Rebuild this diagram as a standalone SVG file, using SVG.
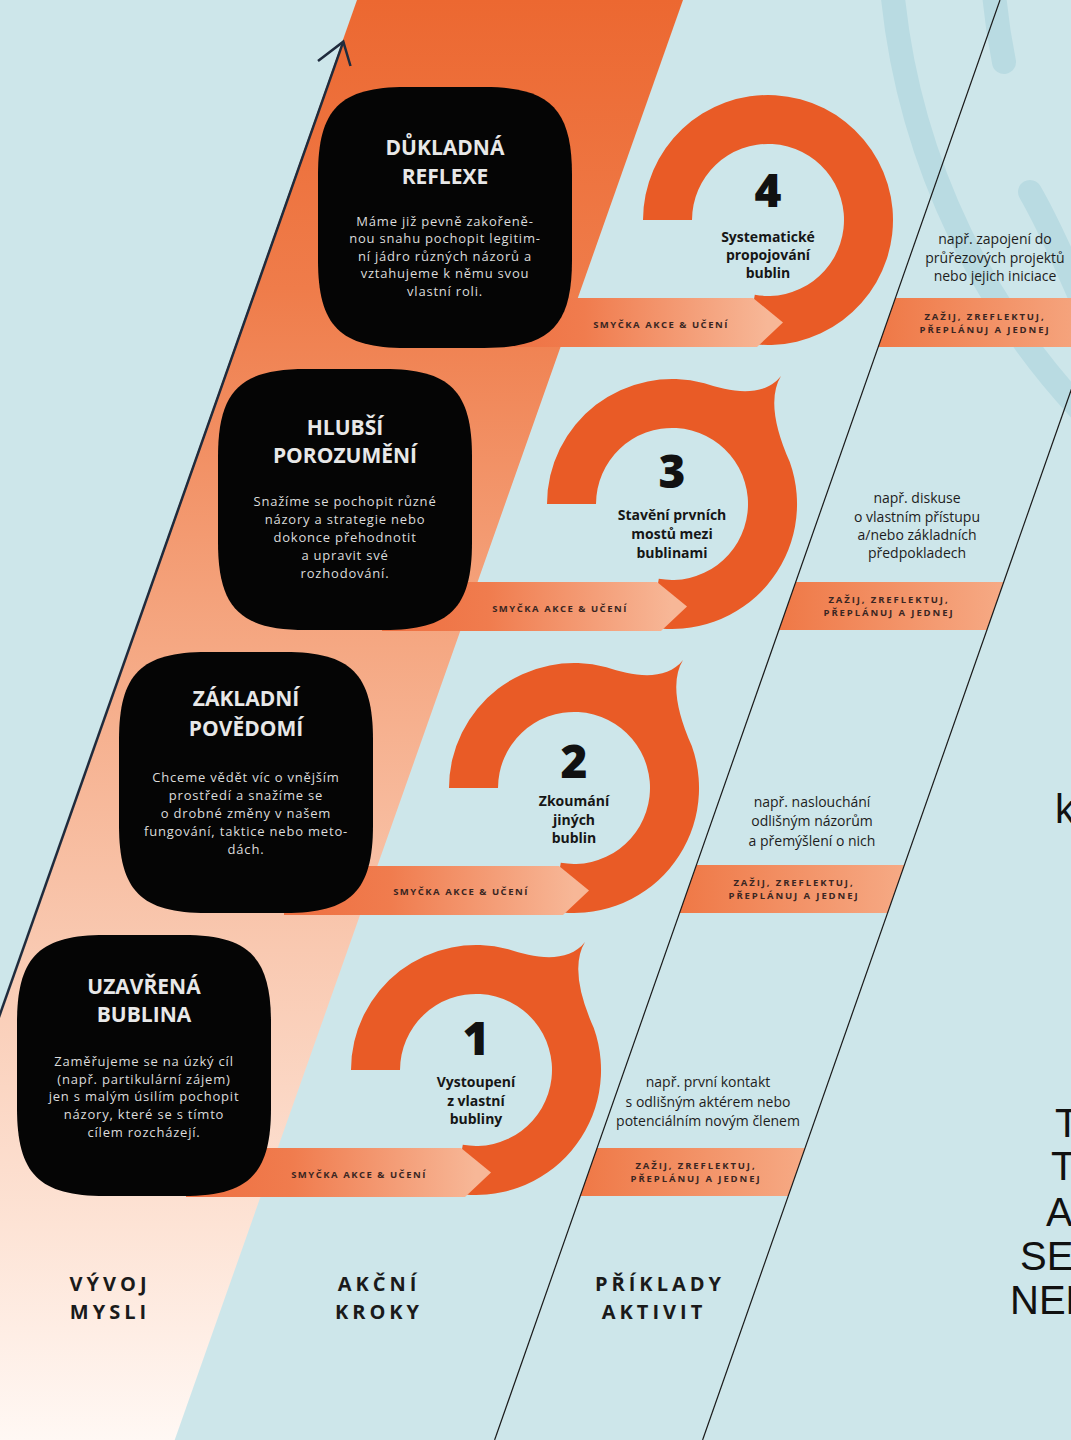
<svg xmlns="http://www.w3.org/2000/svg" width="1071" height="1440" viewBox="0 0 1071 1440">
<defs>
  <linearGradient id="bandGrad" x1="0" y1="0" x2="0" y2="1440" gradientUnits="userSpaceOnUse">
    <stop offset="0" stop-color="#ec6831"/>
    <stop offset="0.2" stop-color="#ef7c4a"/>
    <stop offset="0.45" stop-color="#f5a883"/>
    <stop offset="0.66" stop-color="#f9c9b1"/>
    <stop offset="0.85" stop-color="#fde3d5"/>
    <stop offset="1" stop-color="#fff8f4"/>
  </linearGradient>
  <linearGradient id="loopGrad" x1="0" y1="0" x2="1" y2="0">
    <stop offset="0" stop-color="#ee6f40"/>
    <stop offset="0.35" stop-color="#f07c4e"/>
    <stop offset="0.95" stop-color="#f7b797"/>
  </linearGradient>
  <linearGradient id="exGrad" x1="0" y1="0" x2="1" y2="0">
    <stop offset="0" stop-color="#ef7846"/>
    <stop offset="1" stop-color="#f6aa85"/>
  </linearGradient>
  <path id="box" d="M 88 0 H 166 C 232 0 254 22 254 88 V 173 C 254 239 232 261 166 261 H 88 C 22 261 0 239 0 173 V 88 C 0 22 22 0 88 0 Z"/>
  <path id="ringTail" d="M -125 0 A 125 125 0 0 1 32.4 -120.7 C 58 -112 92 -106 109 -128 Q 92 -100 117.8 -41.9 A 125 125 0 0 1 -21.7 123.1 L -13.2 74.8 A 76 76 0 1 0 -76 0 Z"/>
  <path id="ringPlain" d="M -125 0 A 125 125 0 1 1 -21.7 123.1 L -13.2 74.8 A 76 76 0 1 0 -76 0 Z"/>
  <path id="loopArrow" d="M -290 78 H -15 L 15 102.5 L -11 127 H -290 Z"/>
</defs>
<style>
  .t{font-family:"Open Sans","Noto Sans","DejaVu Sans",sans-serif;text-anchor:middle}
  .title{font-weight:700;font-size:21px;fill:#e8e8e8}
  .body{font-size:13px;fill:#dcdcdc;letter-spacing:0.8px}
  .digit{font-weight:800;font-size:46px;fill:#111}
  .step{font-weight:700;font-size:14px;fill:#161616}
  .loop{font-weight:700;font-size:9.5px;letter-spacing:1.5px;fill:#3a2622}
  .ex{font-size:14px;fill:#1d1d1d}
  .exb{font-weight:700;font-size:9.5px;letter-spacing:1.9px;fill:#3a2622}
  .head{font-weight:700;font-size:20px;letter-spacing:4px;fill:#1a1a1a}
  .cut{font-family:"Liberation Sans",Arial,sans-serif;font-size:40px;fill:#111}
  .ring{fill:#e95b26}
  .boxfill{fill:#050505}
  .arc{fill:none;stroke:#b9dbe2;stroke-width:24;stroke-linecap:round}
  .col{stroke:#1a1a1a;stroke-width:1.2;fill:none}
</style>

<g id="background">
  <rect x="0" y="0" width="1071" height="1440" fill="#cde6ea"/>
  <path class="arc" d="M 892 -12 A 715 715 0 0 0 1110 440"/>
  <path class="arc" d="M 993 -20 A 615 615 0 0 0 1004 62"/>
  <path class="arc" d="M 1030 192 Q 1052 230 1090 320"/>
  <polygon points="357,0 683,0 174.7,1440 -151,1440" fill="url(#bandGrad)"/>
</g>

<g id="example-banners">
  <polygon points="895.4,298 1103,298 1086,347 878.2,347" fill="url(#exGrad)"/>
  <polygon points="795.7,582 1003.7,582 986.9,630 778.9,630" fill="url(#exGrad)"/>
  <polygon points="696.4,865 904.4,865 887.5,913 679.5,913" fill="url(#exGrad)"/>
  <polygon points="597.1,1148 805.1,1148 788.2,1196 580.2,1196" fill="url(#exGrad)"/>
</g>

<g id="step-4">
  <use href="#ringPlain" class="ring" transform="translate(768,220)"/>
  <use href="#loopArrow" fill="url(#loopGrad)" transform="translate(768,220)"/>
  <text class="t loop" x="661" y="328">SMYČKA AKCE &amp; UČENÍ</text>
  <text class="t digit" x="768" y="207">4</text>
  <text class="t step" x="768" y="242">Systematické</text>
  <text class="t step" x="768" y="260">propojování</text>
  <text class="t step" x="768" y="278">bublin</text>
</g>
<g id="step-3">
  <use href="#ringTail" class="ring" transform="translate(672,504)"/>
  <use href="#loopArrow" fill="url(#loopGrad)" transform="translate(672,504)"/>
  <text class="t loop" x="560" y="612">SMYČKA AKCE &amp; UČENÍ</text>
  <text class="t digit" x="672" y="488">3</text>
  <text class="t step" x="672" y="520">Stavění prvních</text>
  <text class="t step" x="672" y="539">mostů mezi</text>
  <text class="t step" x="672" y="558">bublinami</text>
</g>
<g id="step-2">
  <use href="#ringTail" class="ring" transform="translate(574,788)"/>
  <use href="#loopArrow" fill="url(#loopGrad)" transform="translate(574,788)"/>
  <text class="t loop" x="461" y="895">SMYČKA AKCE &amp; UČENÍ</text>
  <text class="t digit" x="574" y="778">2</text>
  <text class="t step" x="574" y="806">Zkoumání</text>
  <text class="t step" x="574" y="825">jiných</text>
  <text class="t step" x="574" y="843">bublin</text>
</g>
<g id="step-1">
  <use href="#ringTail" class="ring" transform="translate(476,1070)"/>
  <use href="#loopArrow" fill="url(#loopGrad)" transform="translate(476,1070)"/>
  <text class="t loop" x="359" y="1178">SMYČKA AKCE &amp; UČENÍ</text>
  <text class="t digit" x="476" y="1055">1</text>
  <text class="t step" x="476" y="1087">Vystoupení</text>
  <text class="t step" x="476" y="1106">z vlastní</text>
  <text class="t step" x="476" y="1124">bubliny</text>
</g>

<g id="mind-4">
  <use href="#box" class="boxfill" x="318" y="87"/>
  <text class="t title" x="445" y="155">DŮKLADNÁ</text>
  <text class="t title" x="445" y="184">REFLEXE</text>
  <text class="t body" x="445" y="226">Máme již pevně zakořeně-</text>
  <text class="t body" x="445" y="243">nou snahu pochopit legitim-</text>
  <text class="t body" x="445" y="261">ní jádro různých názorů a</text>
  <text class="t body" x="445" y="278">vztahujeme k němu svou</text>
  <text class="t body" x="445" y="296">vlastní roli.</text>
</g>
<g id="mind-3">
  <use href="#box" class="boxfill" x="218" y="369"/>
  <text class="t title" x="345" y="435">HLUBŠÍ</text>
  <text class="t title" x="345" y="463">POROZUMĚNÍ</text>
  <text class="t body" x="345" y="506">Snažíme se pochopit různé</text>
  <text class="t body" x="345" y="524">názory a strategie nebo</text>
  <text class="t body" x="345" y="542">dokonce přehodnotit</text>
  <text class="t body" x="345" y="560">a upravit své</text>
  <text class="t body" x="345" y="578">rozhodování.</text>
</g>
<g id="mind-2">
  <use href="#box" class="boxfill" x="119" y="652"/>
  <text class="t title" x="246" y="706">ZÁKLADNÍ</text>
  <text class="t title" x="246" y="736">POVĚDOMÍ</text>
  <text class="t body" x="246" y="782">Chceme vědět víc o vnějším</text>
  <text class="t body" x="246" y="800">prostředí a snažíme se</text>
  <text class="t body" x="246" y="818">o drobné změny v našem</text>
  <text class="t body" x="246" y="836">fungování, taktice nebo meto-</text>
  <text class="t body" x="246" y="854">dách.</text>
</g>
<g id="mind-1">
  <use href="#box" class="boxfill" x="17" y="935"/>
  <text class="t title" x="144" y="994">UZAVŘENÁ</text>
  <text class="t title" x="144" y="1022">BUBLINA</text>
  <text class="t body" x="144" y="1066">Zaměřujeme se na úzký cíl</text>
  <text class="t body" x="144" y="1084">(např. partikulární zájem)</text>
  <text class="t body" x="144" y="1101">jen s malým úsilím pochopit</text>
  <text class="t body" x="144" y="1119">názory, které se s tímto</text>
  <text class="t body" x="144" y="1137">cílem rozcházejí.</text>
</g>

<g id="example-4">
  <text class="t ex" x="995" y="244">např. zapojení do</text>
  <text class="t ex" x="995" y="263">průřezových projektů</text>
  <text class="t ex" x="995" y="281">nebo jejich iniciace</text>
  <text class="t exb" x="985" y="320">ZAŽIJ, ZREFLEKTUJ,</text>
  <text class="t exb" x="985" y="333">PŘEPLÁNUJ A JEDNEJ</text>
</g>
<g id="example-3">
  <text class="t ex" x="917" y="503">např. diskuse</text>
  <text class="t ex" x="917" y="522">o vlastním přístupu</text>
  <text class="t ex" x="917" y="540">a/nebo základních</text>
  <text class="t ex" x="917" y="558">předpokladech</text>
  <text class="t exb" x="889" y="603">ZAŽIJ, ZREFLEKTUJ,</text>
  <text class="t exb" x="889" y="616">PŘEPLÁNUJ A JEDNEJ</text>
</g>
<g id="example-2">
  <text class="t ex" x="812" y="807">např. naslouchání</text>
  <text class="t ex" x="812" y="826">odlišným názorům</text>
  <text class="t ex" x="812" y="846">a přemýšlení o nich</text>
  <text class="t exb" x="794" y="886">ZAŽIJ, ZREFLEKTUJ,</text>
  <text class="t exb" x="794" y="899">PŘEPLÁNUJ A JEDNEJ</text>
</g>
<g id="example-1">
  <text class="t ex" x="708" y="1087">např. první kontakt</text>
  <text class="t ex" x="708" y="1107">s odlišným aktérem nebo</text>
  <text class="t ex" x="708" y="1126">potenciálním novým členem</text>
  <text class="t exb" x="696" y="1169">ZAŽIJ, ZREFLEKTUJ,</text>
  <text class="t exb" x="696" y="1182">PŘEPLÁNUJ A JEDNEJ</text>
</g>

<g id="connectors">
  <line class="col" x1="1000" y1="0" x2="494.6" y2="1440"/>
  <line class="col" x1="1208" y1="0" x2="702.6" y2="1440"/>
  <line x1="343.3" y1="41.7" x2="-5.2" y2="1029" stroke="#1f2b3d" stroke-width="2.5"/>
  <polyline points="318,61 343.3,41.7 350.5,66" fill="none" stroke="#1f2b3d" stroke-width="2.5" stroke-linejoin="miter"/>
</g>

<g id="headers">
  <text class="t head" x="110" y="1291">VÝVOJ</text>
  <text class="t head" x="110" y="1319">MYSLI</text>
  <text class="t head" x="379" y="1291">AKČNÍ</text>
  <text class="t head" x="379" y="1319">KROKY</text>
  <text class="t head" x="660" y="1291">PŘÍKLADY</text>
  <text class="t head" x="654" y="1319">AKTIVIT</text>
</g>

<g id="clipped-text">
  <text class="cut" x="1055" y="823">k</text>
  <text class="cut" x="1055" y="1137">T</text>
  <text class="cut" x="1051" y="1180">T</text>
  <text class="cut" x="1046" y="1226">A</text>
  <text class="cut" x="1020" y="1270">SE</text>
  <text class="cut" x="1010" y="1314">NEE</text>
</g>
</svg>
